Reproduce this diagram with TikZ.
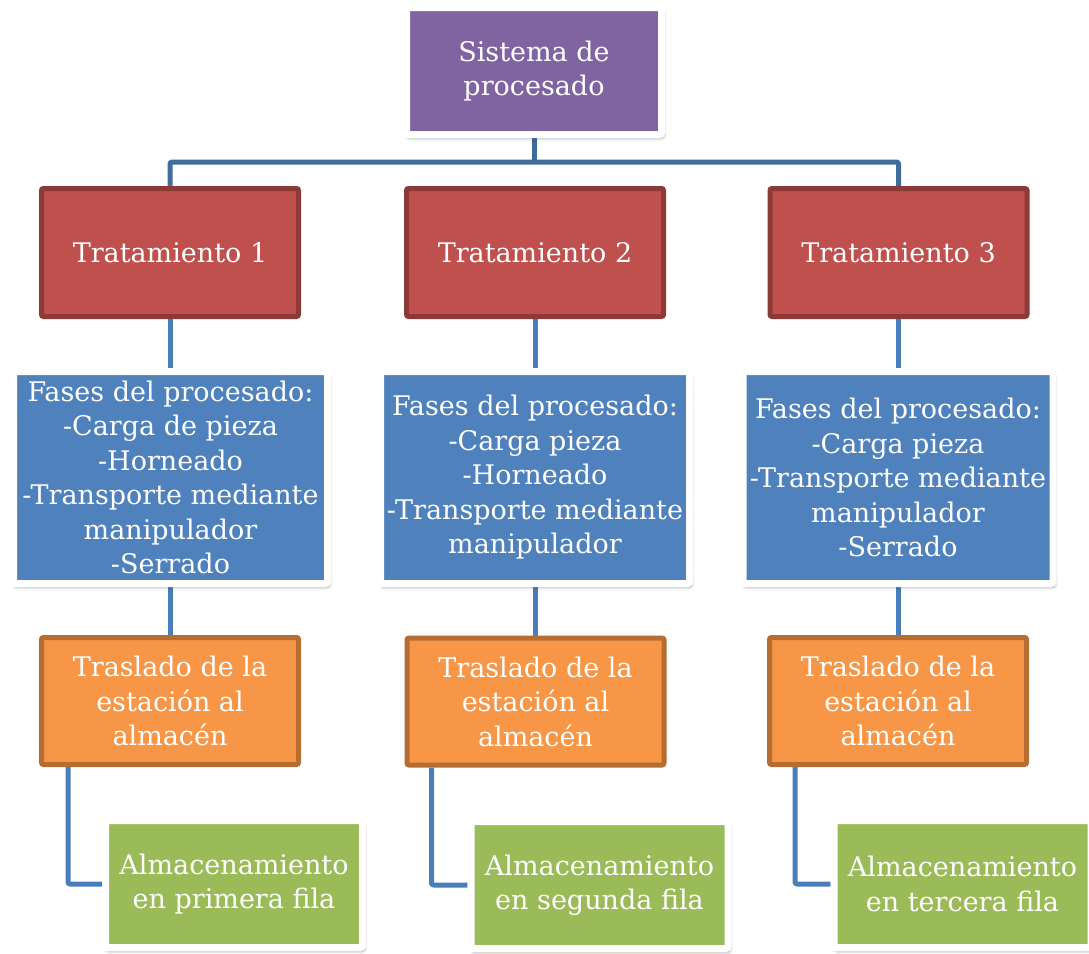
\documentclass[tikz,border=0pt]{standalone}
\usepackage{fontspec}
\setmainfont{DejaVu Serif}
\usetikzlibrary{shadows.blur,backgrounds}

\definecolor{purplefill}{HTML}{8064A2}
\definecolor{redfill}{HTML}{C0504D}
\definecolor{redline}{HTML}{8C3A38}
\definecolor{bluefill}{HTML}{4F81BD}
\definecolor{orangefill}{HTML}{F79646}
\definecolor{orangeline}{HTML}{B66D31}
\definecolor{greenfill}{HTML}{9BBB59}
\definecolor{busline}{HTML}{3F6C9B}
\definecolor{linkline}{HTML}{4A7EBB}

\begin{document}
\begin{tikzpicture}[x=1pt,y=-1pt,
  box/.style={rectangle, rounded corners=2pt, align=center, text=white,
    font=\fontsize{27}{34.5}\selectfont, inner sep=0pt},
  framed/.style={box, draw=white, line width=7pt,
    blur shadow={shadow xshift=1.5pt, shadow yshift=-3pt, shadow opacity=50,
      shadow blur radius=3.5pt, shadow blur steps=8}},
  treatbox/.style={box, fill=redfill, draw=redline, line width=5pt,
    minimum width=257pt, minimum height=128pt},
  movebox/.style={box, fill=orangefill, draw=orangeline, line width=5pt,
    minimum width=257pt, minimum height=127pt},
  phasebox/.style={framed, fill=bluefill, minimum height=212pt},
  storebox/.style={framed, fill=greenfill, minimum width=257pt, minimum height=127pt},
  bus/.style={draw=busline, line width=5pt, line join=round, rounded corners=2pt},
  link/.style={draw=linkline, line width=5pt, line join=round, rounded corners=2pt}
]
\useasboundingbox (0,0) rectangle (1089,953);

% root
\node[framed, fill=purplefill, minimum width=255pt, minimum height=127pt]
  (root) at (534,71) {Sistema de\\procesado};

% treatments
\node[treatbox] (t1) at (170,252.5) {Tratamiento 1};
\node[treatbox] (t2) at (535,252.5) {Tratamiento 2};
\node[treatbox] (t3) at (898.5,252.5) {Tratamiento 3};

% processing phases
\node[phasebox, minimum width=314pt] (f1) at (170.5,477.5)
  {Fases del procesado:\\-Carga de pieza\\-Horneado\\-Transporte mediante\\manipulador\\-Serrado};
\node[phasebox, minimum width=309pt] (f2) at (535,477.5)
  {Fases del procesado:\\-Carga pieza\\-Horneado\\-Transporte mediante\\manipulador};
\node[phasebox, minimum width=310pt] (f3) at (898,477.5)
  {Fases del procesado:\\-Carga pieza\\-Transporte mediante\\manipulador\\-Serrado};

% transfer to the warehouse
\node[movebox] (m1) at (170,701) {Traslado de la\\estación al\\almacén};
\node[movebox] (m2) at (535.5,701.5) {Traslado de la\\estación al\\almacén};
\node[movebox] (m3) at (898,701) {Traslado de la\\estación al\\almacén};

% storage rows
\node[storebox] (s1) at (234,884) {Almacenamiento\\en primera fila};
\node[storebox] (s2) at (599.5,885) {Almacenamiento\\en segunda fila};
\node[storebox] (s3) at (962.5,884) {Almacenamiento\\en tercera fila};

\coordinate (busy) at (0,162);

\begin{pgfonlayer}{background}
  \draw[bus] (root.center) -- (root.center |- busy);
  \draw[bus] (t1.north) -- (t1.north |- busy) -| (t3.north);
  \foreach \i in {1,2,3} {
    \draw[link] (t\i.center) -- (t\i.center |- f\i.center);
    \draw[link] (m\i.center |- f\i.center) -- (m\i.center);
  }
  \draw[link] ([xshift=29pt]m1.south west) |- (s1.west);
  \draw[link] ([xshift=27pt]m2.south west) |- (s2.west);
  \draw[link] ([xshift=28pt]m3.south west) |- (s3.west);
\end{pgfonlayer}
\end{tikzpicture}
\end{document}
